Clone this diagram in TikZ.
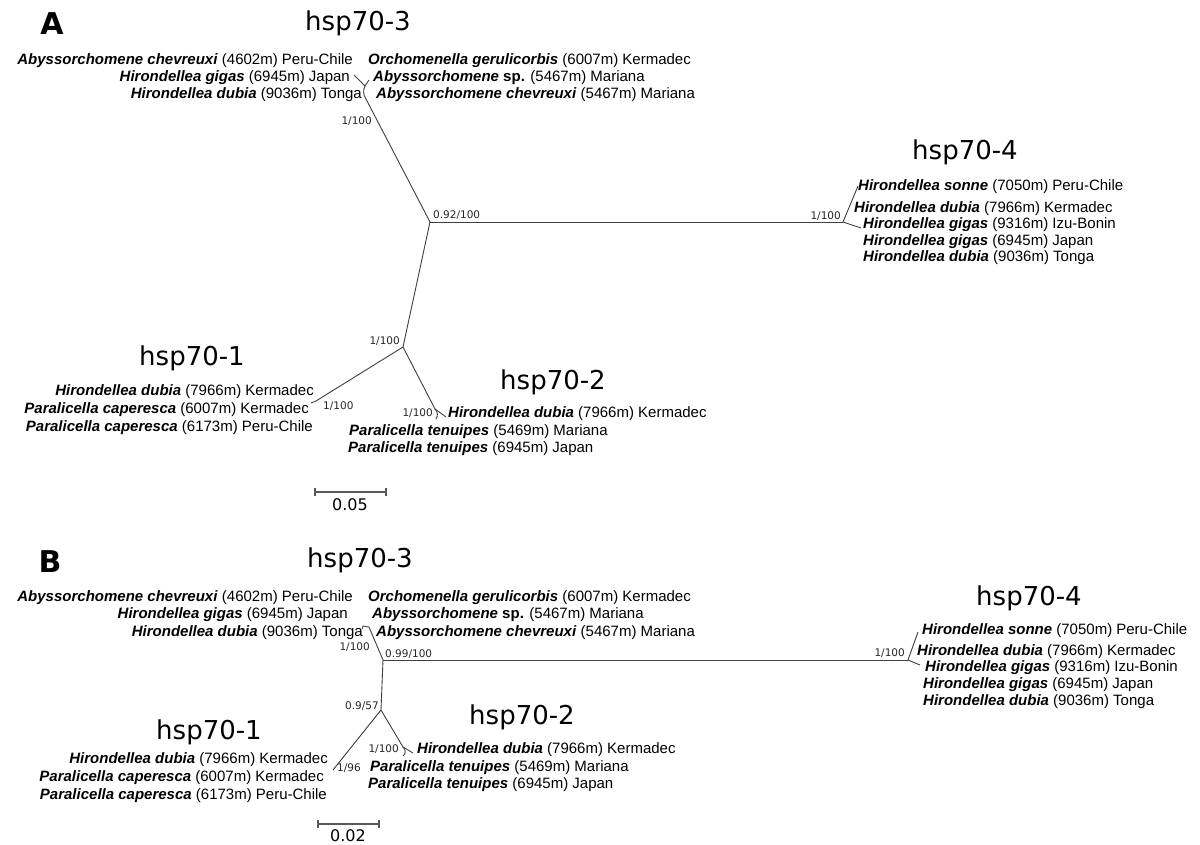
\documentclass[tikz,border=0pt]{standalone}
\usepackage{fontspec}
\setmainfont{Liberation Sans}
\newfontfamily\dejavu{DejaVu Sans}
\newcommand{\spn}[2]{\textbf{\textit{#1}} #2}
\begin{document}
\begin{tikzpicture}[x=1pt,y=-1pt,
  br/.style={draw=black!75, line width=0.9pt},
  lab/.style={inner sep=0pt, font=\fontsize{15}{18}\selectfont, text height=10pt, text depth=1pt},
  sup/.style={inner sep=0pt, font=\dejavu\fontsize{10.5}{12}\selectfont, text=black!85, text height=7.5pt, text depth=0pt},
  hdr/.style={inner sep=0pt, font=\dejavu\fontsize{26}{30}\selectfont},
  pan/.style={inner sep=0pt, font=\dejavu\bfseries\fontsize{30}{34}\selectfont},
  scl/.style={draw=black!65, line width=1.3pt},
  sclt/.style={inner sep=0pt, font=\dejavu\fontsize{16}{18}\selectfont}]
\useasboundingbox (0,0) rectangle (1200,845);
\fill[white] (0,0) rectangle (1200,845);

% ================= Panel A =================
\node[pan] (pA) at (52,24) {A};
\node[hdr] (hA3) at (358,23) {hsp70-3};
\node[hdr] (hA4) at (965,152) {hsp70-4};
\node[hdr] (hA1) at (192,358) {hsp70-1};
\node[hdr] (hA2) at (553,382) {hsp70-2};

\coordinate (CA) at (430,222);
\coordinate (N3A) at (366,99);
\coordinate (J3A) at (365,86);
\coordinate (t3Aa) at (354,75);
\coordinate (t3Ab) at (369,80);
\coordinate (N4A) at (843,222);
\coordinate (t4Aa) at (858,186);
\coordinate (t4Ab) at (861,228);
\coordinate (N12A) at (403,347);
\coordinate (N1A) at (316,401);
\coordinate (t1A) at (311,403);
\coordinate (N2A) at (435,409);
\coordinate (t2Aa) at (446,417);
\coordinate (t2Ab) at (436,419);

\draw[br] (CA) -- (N3A) .. controls (363,95) and (363,90) .. (J3A);
\draw[br] (t3Aa) -- (J3A) -- (t3Ab);
\draw[br] (CA) -- (N4A);
\draw[br] (t4Aa) -- (N4A) -- (t4Ab);
\draw[br] (CA) -- (N12A) -- (N1A) -- (t1A);
\draw[br] (N12A) -- (N2A) -- (t2Aa);
\draw[br] (N2A) .. controls (438,412) and (438,416) .. (t2Ab);

% hsp70-3 labels
\node[lab, anchor=east] (a31) at (353,60) {\spn{Abyssorchomene chevreuxi}{(4602m) Peru-Chile}};
\node[lab, anchor=east] (a32) at (350,77) {\spn{Hirondellea gigas}{(6945m) Japan}};
\node[lab, anchor=east] (a33) at (362,94) {\spn{Hirondellea dubia}{(9036m) Tonga}};
\node[lab, anchor=west] (a34) at (368,60) {\spn{Orchomenella gerulicorbis}{(6007m) Kermadec}};
\node[lab, anchor=west] (a35) at (373,77) {\textbf{\textit{Abyssorchomene} sp.} (5467m) Mariana};
\node[lab, anchor=west] (a36) at (376,94) {\spn{Abyssorchomene chevreuxi}{(5467m) Mariana}};
% hsp70-4 labels
\node[lab, anchor=west] (a41) at (858,186) {\spn{Hirondellea sonne}{(7050m) Peru-Chile}};
\node[lab, anchor=west] (a42) at (854,208) {\spn{Hirondellea dubia}{(7966m) Kermadec}};
\node[lab, anchor=west] (a43) at (863,224) {\spn{Hirondellea gigas}{(9316m) Izu-Bonin}};
\node[lab, anchor=west] (a44) at (863,241) {\spn{Hirondellea gigas}{(6945m) Japan}};
\node[lab, anchor=west] (a45) at (863,257) {\spn{Hirondellea dubia}{(9036m) Tonga}};
% hsp70-1 labels
\node[lab, anchor=east] (a11) at (314,391) {\spn{Hirondellea dubia}{(7966m) Kermadec}};
\node[lab, anchor=east] (a12) at (309,409) {\spn{Paralicella caperesca}{(6007m) Kermadec}};
\node[lab, anchor=east] (a13) at (313,427) {\spn{Paralicella caperesca}{(6173m) Peru-Chile}};
% hsp70-2 labels
\node[lab, anchor=west] (a21) at (448,413) {\spn{Hirondellea dubia}{(7966m) Kermadec}};
\node[lab, anchor=west] (a22) at (349,431) {\spn{Paralicella tenuipes}{(5469m) Mariana}};
\node[lab, anchor=west] (a23) at (348,448) {\spn{Paralicella tenuipes}{(6945m) Japan}};
% support values
\node[sup, anchor=east] (sA3) at (372,121) {1/100};
\node[sup, anchor=west] (sAC) at (433,215) {0.92/100};
\node[sup, anchor=east] (sA4) at (841,216) {1/100};
\node[sup, anchor=east] (sA12) at (400,341) {1/100};
\node[sup, anchor=west] (sA1) at (323,406) {1/100};
\node[sup, anchor=east] (sA2) at (433,413) {1/100};
% scale bar
\coordinate (bA1) at (315,492);
\coordinate (bA2) at (386,492);
\draw[scl] (bA1) -- (bA2);
\draw[scl] (bA1) ++(0,-4) -- ++(0,8);
\draw[scl] (bA2) ++(0,-4) -- ++(0,8);
\node[sclt] (bAt) at (350,505) {0.05};

% ================= Panel B =================
\node[pan] (pB) at (50,562) {B};
\node[hdr] (hB3) at (360,560) {hsp70-3};
\node[hdr] (hB4) at (1029,598) {hsp70-4};
\node[hdr] (hB1) at (209,732) {hsp70-1};
\node[hdr] (hB2) at (522,717) {hsp70-2};

\coordinate (CB) at (383,660);
\coordinate (N3B) at (369,627);
\coordinate (t3Ba) at (363,626);
\coordinate (t3Bb) at (362,629);
\coordinate (N4B) at (908,660);
\coordinate (t4Ba) at (918,632);
\coordinate (t4Bb) at (920,665);
\coordinate (N12B) at (381,710);
\coordinate (N1B) at (333,770);
\coordinate (N2B) at (403,747);
\coordinate (t2Ba) at (413,753);
\coordinate (t2Bb) at (403,756);

\draw[br] (CB) -- (N3B) -- (t3Ba) -- (t3Bb);
\draw[br] (CB) -- (N4B);
\draw[br] (t4Ba) -- (N4B) -- (t4Bb);
\draw[br] (CB) -- (N12B) -- (N1B);
\draw[br] (N12B) -- (N2B) -- (t2Ba);
\draw[br] (N2B) .. controls (406,750) and (406,754) .. (t2Bb);

\node[lab, anchor=east] (b31) at (353,597) {\spn{Abyssorchomene chevreuxi}{(4602m) Peru-Chile}};
\node[lab, anchor=east] (b32) at (348,614) {\spn{Hirondellea gigas}{(6945m) Japan}};
\node[lab, anchor=east] (b33) at (363,632) {\spn{Hirondellea dubia}{(9036m) Tonga}};
\node[lab, anchor=west] (b34) at (368,597) {\spn{Orchomenella gerulicorbis}{(6007m) Kermadec}};
\node[lab, anchor=west] (b35) at (372,614) {\textbf{\textit{Abyssorchomene} sp.} (5467m) Mariana};
\node[lab, anchor=west] (b36) at (376,632) {\spn{Abyssorchomene chevreuxi}{(5467m) Mariana}};

\node[lab, anchor=west] (b41) at (922,630) {\spn{Hirondellea sonne}{(7050m) Peru-Chile}};
\node[lab, anchor=west] (b42) at (917,651) {\spn{Hirondellea dubia}{(7966m) Kermadec}};
\node[lab, anchor=west] (b43) at (925,667) {\spn{Hirondellea gigas}{(9316m) Izu-Bonin}};
\node[lab, anchor=west] (b44) at (923,684) {\spn{Hirondellea gigas}{(6945m) Japan}};
\node[lab, anchor=west] (b45) at (923,701) {\spn{Hirondellea dubia}{(9036m) Tonga}};

\node[lab, anchor=east] (b11) at (328,759) {\spn{Hirondellea dubia}{(7966m) Kermadec}};
\node[lab, anchor=east] (b12) at (324,777) {\spn{Paralicella caperesca}{(6007m) Kermadec}};
\node[lab, anchor=east] (b13) at (327,795) {\spn{Paralicella caperesca}{(6173m) Peru-Chile}};

\node[lab, anchor=west] (b21) at (417,749) {\spn{Hirondellea dubia}{(7966m) Kermadec}};
\node[lab, anchor=west] (b22) at (370,767) {\spn{Paralicella tenuipes}{(5469m) Mariana}};
\node[lab, anchor=west] (b23) at (368,784) {\spn{Paralicella tenuipes}{(6945m) Japan}};

\node[sup, anchor=east] (sB3) at (370,647) {1/100};
\node[sup, anchor=west] (sBC) at (385,654) {0.99/100};
\node[sup, anchor=east] (sB4) at (905,653) {1/100};
\node[sup, anchor=east] (sB12) at (379,706) {0.9/57};
\node[sup, anchor=west] (sB1) at (337,768) {1/96};
\node[sup, anchor=east] (sB2) at (399,749) {1/100};

\coordinate (bB1) at (318,824);
\coordinate (bB2) at (379,824);
\draw[scl] (bB1) -- (bB2);
\draw[scl] (bB1) ++(0,-4) -- ++(0,8);
\draw[scl] (bB2) ++(0,-4) -- ++(0,8);
\node[sclt] (bBt) at (348,836) {0.02};
\end{tikzpicture}
\end{document}
